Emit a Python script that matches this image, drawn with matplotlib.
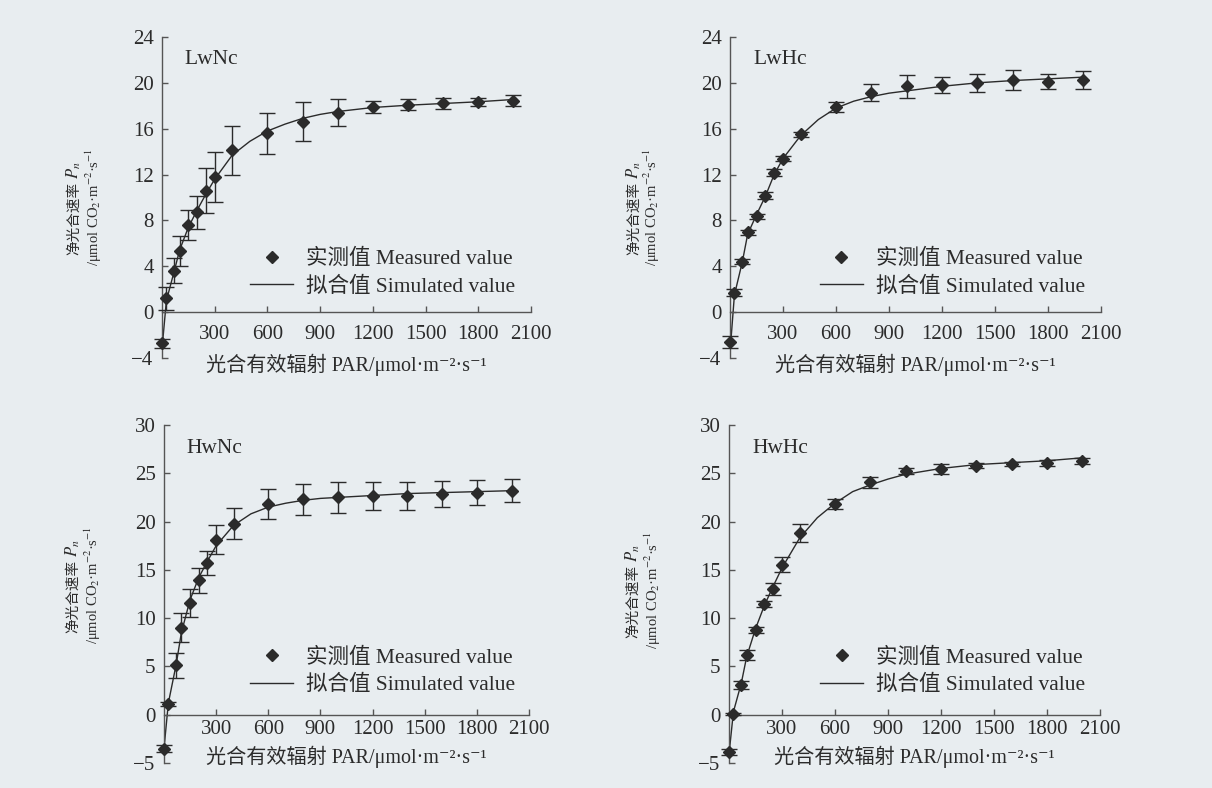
import matplotlib
matplotlib.use("Agg")
import matplotlib.pyplot as plt
from matplotlib.lines import Line2D

plt.rcParams["font.family"] = ["Liberation Serif", "DejaVu Serif", "Noto Sans CJK SC"]
plt.rcParams["mathtext.fontset"] = "stix"

BG = "#e8edf0"
INK = "#2b2b2b"
AXIS = "#555555"

# PAR levels of the measured points and of the fitted curve
par = [0, 25, 70, 100, 150, 200, 250, 300, 400, 600, 800, 1000, 1200, 1400, 1600, 1800, 2000]
sim_par = [0, 25, 70, 100, 150, 200, 250, 300, 400, 500, 600, 700, 800, 900, 1000,
           1200, 1400, 1600, 1800, 2000]

lwnc_mean = [-2.7, 1.2, 3.6, 5.3, 7.6, 8.7, 10.6, 11.8, 14.1, 15.6, 16.6, 17.4, 17.9, 18.1, 18.2, 18.3, 18.45]
lwnc_err = [0.4, 1.0, 1.1, 1.3, 1.35, 1.45, 1.95, 2.15, 2.1, 1.8, 1.7, 1.2, 0.5, 0.45, 0.5, 0.35, 0.45]
lwnc_sim = [-3.2, 1.0, 3.6, 5.4, 7.4, 8.9, 10.3, 11.6, 13.7, 14.9, 15.8, 16.4, 16.9, 17.25, 17.5,
            17.85, 18.05, 18.2, 18.35, 18.55]

lwhc_mean = [-2.6, 1.7, 4.4, 6.95, 8.35, 10.15, 12.15, 13.4, 15.5, 17.9, 19.15, 19.7, 19.85, 20.0, 20.25, 20.1, 20.25]
lwhc_err = [0.5, 0.3, 0.2, 0.2, 0.2, 0.3, 0.3, 0.2, 0.2, 0.4, 0.75, 1.0, 0.7, 0.8, 0.85, 0.65, 0.75]
lwhc_sim = [-3.5, 1.5, 4.4, 6.8, 8.5, 10.1, 12.0, 13.4, 15.4, 16.8, 17.8, 18.4, 18.8, 19.1, 19.3,
            19.7, 20.0, 20.2, 20.35, 20.5]

hwnc_mean = [-3.5, 1.15, 5.1, 9.0, 11.6, 13.9, 15.75, 18.1, 19.8, 21.8, 22.3, 22.5, 22.65, 22.65, 22.9, 23.0, 23.2]
hwnc_err = [0.4, 0.2, 1.3, 1.5, 1.45, 1.3, 1.25, 1.5, 1.6, 1.55, 1.6, 1.6, 1.45, 1.4, 1.35, 1.3, 1.2]
hwnc_sim = [-3.5, 1.2, 5.2, 8.5, 11.9, 14.2, 15.9, 17.5, 19.6, 20.8, 21.5, 21.9, 22.2, 22.4, 22.5,
            22.7, 22.9, 23.0, 23.1, 23.2]

hwhc_mean = [-3.9, 0.1, 3.1, 6.2, 8.8, 11.5, 13.0, 15.55, 18.8, 21.8, 24.05, 25.2, 25.45, 25.8, 26.0, 26.1, 26.25]
hwhc_err = [0.3, 0.1, 0.4, 0.5, 0.3, 0.3, 0.6, 0.8, 0.9, 0.5, 0.6, 0.3, 0.5, 0.3, 0.2, 0.3, 0.3]
hwhc_sim = [-4.1, 0.3, 3.3, 6.0, 8.9, 11.3, 13.3, 15.2, 18.3, 20.4, 21.9, 23.1, 23.8, 24.4, 24.9,
            25.5, 25.9, 26.1, 26.3, 26.6]

names = ["LwNc", "LwHc", "HwNc", "HwHc"]
means = [lwnc_mean, lwhc_mean, hwnc_mean, hwhc_mean]
errs = [lwnc_err, lwhc_err, hwnc_err, hwhc_err]
sims = [lwnc_sim, lwhc_sim, hwnc_sim, hwhc_sim]
ylims = [(-4, 24), (-4, 24), (-5, 30), (-5, 30)]
ysteps = [4, 4, 5, 5]
xticks = [300, 600, 900, 1200, 1500, 1800, 2100]

W, H = 1212, 788
# axes boxes in pixels: left, top, right, bottom
boxes = [(162, 37, 531, 358), (730, 37, 1101, 358), (164, 425, 529, 763), (729, 425, 1100, 763)]
# y label placement in pixels: line 1 x, line 2 x, centre y
ylab_pos = [(74, 94, 207), (634, 652, 207), (73, 93, 585), (633, 653, 590)]
legend_anchor = [(0.957, 0.19), (0.957, 0.19), (0.962, 0.2), (0.96, 0.2)]
xlab_y = [-0.022, -0.022, 0.018, 0.018]
xpad = [9, 9, 4, 4]

fig = plt.figure(figsize=(W / 100, H / 100), dpi=100, facecolor=BG)

for i in range(4):
    l, t, r, b = boxes[i]
    ax = fig.add_axes([l / W, 1 - b / H, (r - l) / W, (b - t) / H])
    ax.patch.set_alpha(0)

    ax.plot(sim_par, sims[i], color=INK, lw=1.0, zorder=2)
    eb = ax.errorbar(par, means[i], yerr=errs[i], fmt="D", ms=6.5, color=INK,
                     ecolor=INK, elinewidth=1.0, capsize=5.5, capthick=1.0, zorder=3)
    eb.lines[0].set_clip_on(False)
    for art in list(eb.lines[1]) + list(eb.lines[2]):
        art.set_clip_on(False)

    y0, y1 = ylims[i]
    ax.set_xlim(0, 2100)
    ax.set_ylim(y0, y1)
    ax.set_yticks(range(y0, y1 + 1, ysteps[i]))
    ax.set_xticks(xticks)

    for s in ["top", "right"]:
        ax.spines[s].set_visible(False)
    ax.spines["bottom"].set_position(("data", 0))
    for s in ["left", "bottom"]:
        ax.spines[s].set_color(AXIS)
        ax.spines[s].set_linewidth(1.0)
    ax.tick_params(axis="both", direction="in", length=4, width=1, color=AXIS,
                   labelsize=15, labelcolor=INK)
    ax.tick_params(axis="x", pad=xpad[i])
    ax.tick_params(axis="y", pad=6)

    ax.text(0.062, 0.93, names[i], transform=ax.transAxes, fontsize=15.5,
            color=INK, ha="left", va="center")

    ax.text(0.5, xlab_y[i], "光合有效辐射 PAR/μmol·m⁻²·s⁻¹", transform=ax.transAxes,
            fontsize=14.5, color=INK, ha="center", va="center")

    handles = [Line2D([], [], marker="D", ms=6.5, color=INK, ls="none"),
               Line2D([], [], color=INK, lw=1.0)]
    ax.legend(handles, ["实测值 Measured value", "拟合值 Simulated value"],
              loc="lower right", bbox_to_anchor=legend_anchor[i], frameon=False,
              fontsize=15.5, borderpad=0, borderaxespad=0, handlelength=2.0,
              handletextpad=0.6, labelspacing=0.35, labelcolor=INK)

    # two-line rotated y label
    x1, x2, yc = ylab_pos[i]
    fig.text(x1 / W, 1 - (yc - 25) / H, "净光合速率", rotation=90, fontsize=10.5,
             color=INK, ha="center", va="top")
    fig.text(x1 / W, 1 - (yc - 28) / H, "$P_n$", rotation=90, fontsize=12,
             color=INK, ha="center", va="bottom")
    fig.text(x2 / W, 1 - yc / H, "/μmol CO$_2$·m$^{-2}$·s$^{-1}$", rotation=90,
             fontsize=10.5, color=INK, ha="center", va="center")

fig.savefig("out.png", dpi=100, facecolor=BG)
